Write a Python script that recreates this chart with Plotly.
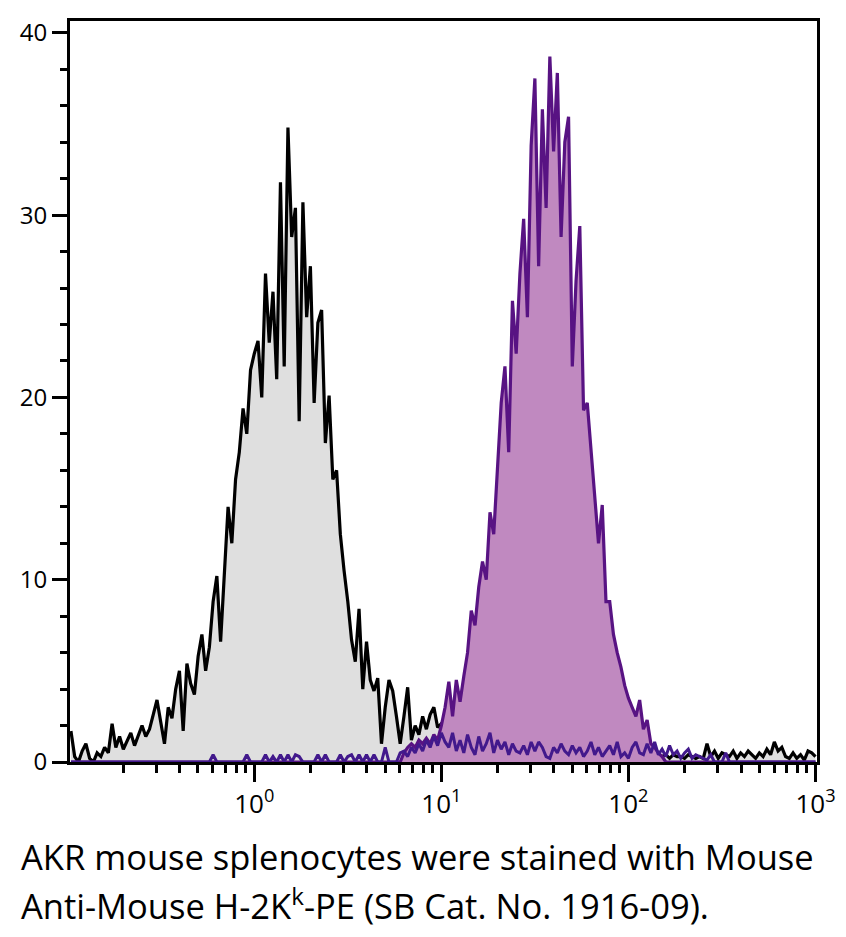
import plotly.graph_objects as go

# Channel layout (log10 of fluorescence), evenly spaced instrument channels
channel_start_log = -0.98
channel_step_log = 0.02
n_channels = 200

# Unstained / control histogram (grey fill, black outline)
control_counts = [
    1.7, 0.3, 0.0, 0.6, 1.0, 0.2, 0.0, 0.5, 0.3, 0.8,
    0.5, 2.1, 0.8, 1.4, 0.7, 1.2, 1.6, 0.9, 1.5, 2.0,
    1.4, 1.8, 2.6, 3.4, 2.2, 1.0, 3.0, 2.4, 4.0, 5.0,
    1.7, 5.4, 4.3, 3.7, 5.8, 7.0, 5.0, 6.3, 8.8, 10.2,
    6.6, 10.5, 14.0, 12.0, 15.5, 17.0, 19.4, 18.0, 21.5, 22.4,
    23.1, 20.0, 26.8, 23.0, 25.8, 21.0, 31.8, 21.7, 34.8, 28.8,
    30.4, 18.7, 30.7, 24.4, 27.2, 19.7, 24.1, 24.8, 17.5, 20.1,
    15.5, 16.0, 12.5, 10.5, 8.8, 6.7, 5.5, 8.4, 4.0, 6.6,
    4.5, 3.9, 4.6, 1.0, 3.0, 4.5, 3.9, 2.5, 1.0, 2.5,
    4.1, 1.2, 2.0, 1.5, 2.5, 1.8, 2.6, 3.0, 1.9, 2.1,
    1.5, 1.8, 1.2, 1.6, 1.0, 1.4, 1.1, 1.5, 0.9, 1.2,
    1.0, 1.3, 0.8, 1.1, 0.9, 1.2, 0.8, 1.0, 0.7, 1.1,
    0.8, 0.9, 0.6, 1.0, 0.7, 0.8, 0.6, 0.9, 0.5, 0.8,
    0.6, 0.7, 0.5, 0.8, 0.4, 0.7, 0.5, 0.6, 0.4, 0.7,
    0.5, 0.6, 0.4, 0.5, 0.3, 0.6, 0.4, 0.5, 0.3, 0.5,
    0.4, 0.5, 0.3, 0.4, 0.3, 0.5, 0.2, 0.4, 0.3, 0.4,
    0.2, 0.4, 0.3, 0.3, 0.2, 0.4, 0.3, 0.2, 0.3, 0.2,
    1.0, 0.3, 0.6, 0.2, 0.5, 0.4, 0.3, 0.6, 0.2, 0.5,
    0.3, 0.6, 0.4, 0.2, 0.5, 0.3, 0.7, 0.4, 1.1, 0.6,
    0.8, 0.3, 0.2, 0.5, 0.2, 0.4, 0.1, 0.6, 0.5, 0.3,
]

# H-2Kk-PE stained histogram (purple fill)
stained_counts = [0.0] * 89 + [
    0.5, 0.8, 1.0, 0.8, 1.2, 1.0, 1.3, 1.0, 1.5, 1.2,
    2.0, 3.0, 4.4, 2.5, 4.5, 3.3, 4.7, 6.0, 8.3, 7.5,
    9.6, 11.0, 10.0, 13.7, 12.5, 16.0, 19.7, 21.7, 17.0, 25.3,
    22.4, 26.8, 29.8, 24.4, 33.8, 37.5, 27.2, 35.8, 30.4, 38.7,
    33.5, 37.8, 28.8, 34.0, 35.4, 21.7, 26.4, 29.4, 19.3, 19.7,
    17.0, 14.5, 12.0, 14.1, 8.8, 8.8, 7.0, 6.0, 5.2, 4.2,
    3.5, 3.0, 2.5, 3.4, 1.8, 2.3, 1.0, 0.8, 0.5, 0.3,
] + [0.0] * 41

# Low-level background overlay (indigo outline)
overlay_counts = [0.0] * 38 + [
    0.4, 0.0, 0.0, 0.0, 0.0, 0.0, 0.0, 0.0, 0.0, 0.4,
    0.0, 0.0, 0.0, 0.0, 0.4, 0.0, 0.3, 0.0, 0.4, 0.0,
    0.4, 0.0, 0.4, 0.3, 0.0, 0.0, 0.0, 0.0, 0.4, 0.0,
    0.4, 0.0, 0.0, 0.0, 0.4, 0.0, 0.3, 0.4, 0.0, 0.4,
    0.0, 0.4, 0.0, 0.4, 0.0, 0.0, 0.8, 0.0, 0.0, 0.0,
    0.5, 0.6, 0.3, 0.8, 0.5, 1.0, 0.6, 1.2, 0.8, 1.4,
    0.9, 1.6, 1.1, 0.8, 1.6, 0.6, 1.2, 0.5, 1.5, 0.8,
    0.4, 1.4, 0.6, 1.0, 1.6, 0.5, 1.2, 0.7, 1.1, 0.4,
    1.0, 0.6, 0.5, 0.9, 0.4, 1.1, 0.6, 1.1, 0.8, 0.3,
    0.2, 0.8, 0.5, 1.0, 0.6, 0.4, 0.9, 0.5, 0.8, 0.3,
    0.6, 1.1, 0.4, 0.8, 0.3, 0.6, 0.9, 0.4, 1.1, 0.3,
    0.5, 0.2, 0.8, 1.1, 0.5, 0.4, 1.0, 0.5, 1.1, 0.4,
    0.7, 0.3, 0.9, 0.4, 0.6, 0.2, 0.5, 0.7, 0.2, 0.4,
    0.3, 0.2, 0.1, 0.4, 0.0, 0.0, 0.0, 0.5, 0.0, 0.0,
] + [0.0] * 22

x_tick_values = [1, 10, 100, 1000]
x_tick_labels = ["10<sup>0</sup>", "10<sup>1</sup>", "10<sup>2</sup>", "10<sup>3</sup>"]
x_minor_values = [m * d for d in (0.1, 1, 10, 100) for m in range(2, 10)]
y_tick_values = [0, 10, 20, 30, 40]
caption_lines = [
    "AKR mouse splenocytes were stained with Mouse",
    "Anti-Mouse H-2K<sup>k</sup>-PE (SB Cat. No. 1916-09).",
]

x_channels = [10 ** (channel_start_log + channel_step_log * i) for i in range(n_channels)]

fig = go.Figure()
fig.add_trace(go.Scatter(
    x=x_channels, y=control_counts, mode="lines", fill="tozeroy",
    fillcolor="#dfdfdf", line=dict(color="#000000", width=3.2),
    showlegend=False, hoverinfo="skip"))
fig.add_trace(go.Scatter(
    x=x_channels, y=stained_counts, mode="lines", fill="tozeroy",
    fillcolor="#c089c0", line=dict(color="#581383", width=3.2),
    showlegend=False, hoverinfo="skip"))
fig.add_trace(go.Scatter(
    x=x_channels, y=overlay_counts, mode="lines",
    line=dict(color="#42198c", width=3.0),
    showlegend=False, hoverinfo="skip"))

fig.update_xaxes(
    type="log", range=[-0.985, 3.008],
    showline=True, linecolor="black", linewidth=3, mirror=True,
    showgrid=False, zeroline=False,
    tickmode="array", tickvals=x_tick_values, ticktext=x_tick_labels,
    ticks="outside", ticklen=17, tickwidth=3, tickcolor="black",
    tickfont=dict(family="Open Sans", size=26, color="black"),
    minor=dict(tickvals=x_minor_values, ticks="outside", ticklen=8,
               tickwidth=2.5, tickcolor="black", showgrid=False),
)
fig.update_yaxes(
    range=[0, 40.65],
    showline=True, linecolor="black", linewidth=3, mirror=True,
    showgrid=False, zeroline=False,
    tickmode="array", tickvals=y_tick_values,
    ticks="outside", ticklen=15, tickwidth=3, tickcolor="black",
    tickfont=dict(family="Open Sans", size=24, color="black"),
    minor=dict(dtick=2, ticks="outside", ticklen=7, tickwidth=2.5,
               tickcolor="black", showgrid=False),
)

caption_y = [-0.128, -0.192]
for line, yy in zip(caption_lines, caption_y):
    fig.add_annotation(
        text=line, xref="paper", yref="paper",
        x=-0.068, y=yy, xanchor="left", yanchor="middle", align="left",
        showarrow=False,
        font=dict(family="Open Sans", size=34.5, color="black"),
    )

fig.update_layout(
    width=838, height=929,
    margin=dict(l=62, r=29, t=7, b=175),
    plot_bgcolor="white", paper_bgcolor="white",
)

fig.write_html("out.html")
